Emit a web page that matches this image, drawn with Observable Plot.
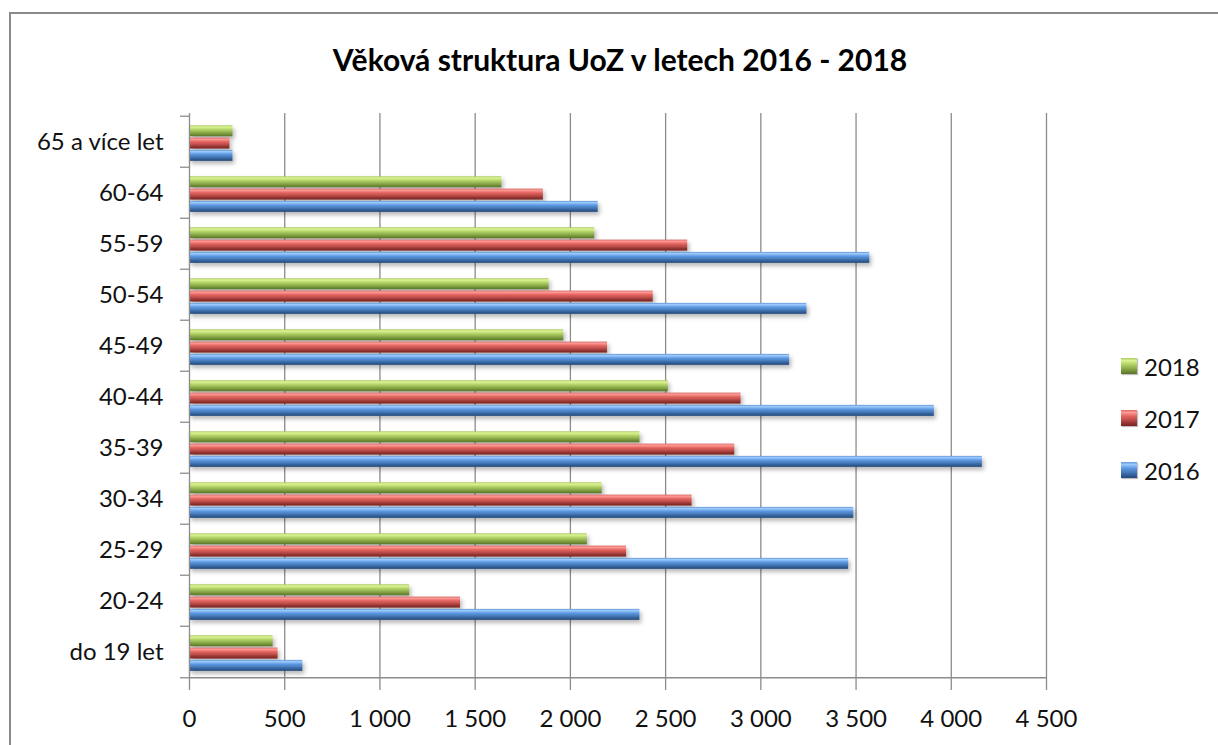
<!DOCTYPE html>
<html>
<head>
<meta charset="utf-8">
<script src="https://cdn.jsdelivr.net/npm/d3@7"></script>
<script src="https://cdn.jsdelivr.net/npm/@observablehq/plot@0.6"></script>
<style>
  html, body { margin: 0; padding: 0; background: #fff; }
  #wrap { position: relative; width: 1218px; height: 745px; overflow: hidden; font-family: Lato, "Open Sans", sans-serif; }
  #border { position: absolute; left: 9px; top: 12px; width: 1220px; height: 760px; border: 2px solid #8a8a8a; box-sizing: border-box; }
  #title { position: absolute; left: 0; width: 1240px; top: 41px; text-align: center; font-weight: bold; font-size: 30px; color: #000; }
  #chart { position: absolute; left: 0; top: 0; }
  #legend { position: absolute; left: 1121px; top: 340px; font-size: 24px; color: #111; }
  .li { display: flex; align-items: center; height: 52px; }
  .sw { width: 16px; height: 16px; margin-right: 7px; box-shadow: 1px 1px 1px rgba(0,0,0,0.25); }
</style>
</head>
<body>
<div id="wrap">
  <div id="border"></div>
  <div id="title">Věková struktura UoZ v letech 2016 - 2018</div>
  <div id="chart"></div>
  <div id="legend"></div>
</div>
<script>
const categories = ["65 a více let","60-64","55-59","50-54","45-49","40-44","35-39","30-34","25-29","20-24","do 19 let"];
const years = ["2018","2017","2016"];
const v2018 = [228,1640,2128,1888,1965,2514,2365,2167,2089,1156,439];
const v2017 = [212,1858,2616,2435,2195,2896,2863,2639,2295,1423,465];
const v2016 = [228,2146,3572,3242,3151,3911,4163,3488,3461,2365,595];
const xTicks = [0,500,1000,1500,2000,2500,3000,3500,4000,4500];

const series = {"2018": v2018, "2017": v2017, "2016": v2016};
const rows = [];
for (const y of years) categories.forEach((c, i) => rows.push({category: c, year: y, value: series[y][i]}));

const W = 1218, H = 745;
const mL = 189, mR = 1218 - 1046, mT = 113, mB = 745 - 680;
const bw = (H - mT - mB) / categories.length;
const fills = {"2018": "url(#gGreen)", "2017": "url(#gRed)", "2016": "url(#gBlue)"};
const slots = {"2018": [9.3, 20.8], "2017": [21.6, 33.1], "2016": [33.9, 45.4]};
const grid = "#8c8c8c";

const fmt = d => d >= 1000 ? `${Math.floor(d/1000)} ${String(d % 1000).padStart(3, "0")}` : `${d}`;

const barMarks = years.map(y => Plot.barX(rows.filter(r => r.year === y), {
  x: "value", y: "category", fill: fills[y],
  insetTop: slots[y][0], insetBottom: bw - slots[y][1]
}));

const plot = Plot.plot({
  width: W, height: H,
  marginLeft: mL, marginRight: mR, marginTop: mT, marginBottom: mB,
  style: {fontFamily: "Lato, 'Open Sans', sans-serif", fontSize: "24px", color: "#111", background: "transparent", overflow: "visible"},
  x: {domain: [0, 4500], axis: null, label: null},
  y: {domain: categories, padding: 0, axis: null, label: null},
  marks: [
    Plot.ruleX(xTicks.slice(1), {stroke: grid, strokeWidth: 1.3}),
    ...barMarks,
    Plot.ruleX([0], {stroke: grid, strokeWidth: 1.3}),
    Plot.ruleY([categories[categories.length - 1]], {dy: bw / 2, x1: 0, x2: 4500, stroke: grid, strokeWidth: 1.3}),
    Plot.axisY({tickSize: 0, tickPadding: 26, fontSize: 24, fill: "#111", label: null}),
    Plot.axisY({tickSize: 9, text: null, dy: -bw / 2, stroke: grid, strokeWidth: 1.3, label: null}),
    Plot.axisY([categories[categories.length - 1]], {tickSize: 9, text: null, dy: bw / 2, stroke: grid, strokeWidth: 1.3, label: null}),
    Plot.axisX({ticks: xTicks, tickSize: 10, tickPadding: 19, tickFormat: fmt, fontSize: 24, fill: "#111", stroke: grid, strokeWidth: 1.3, label: null})
  ]
});

const ns = "http://www.w3.org/2000/svg";
const defs = document.createElementNS(ns, "defs");
const grads = {
  gGreen: [["0", "#a9c65f"], ["0.15", "#dcf593"], ["0.4", "#b2d166"], ["0.6", "#94b451"], ["0.85", "#6f8c35"], ["1", "#5a7428"]],
  gRed:   [["0", "#d86a66"], ["0.15", "#ff9a96"], ["0.4", "#e0605c"], ["0.6", "#c0504d"], ["0.85", "#8e302d"], ["1", "#772422"]],
  gBlue:  [["0", "#5f95d6"], ["0.15", "#9ccaff"], ["0.4", "#5b97e0"], ["0.6", "#4a7fc0"], ["0.85", "#2f5b94"], ["1", "#244a7a"]]
};
for (const [id, stops] of Object.entries(grads)) {
  const g = document.createElementNS(ns, "linearGradient");
  g.setAttribute("id", id);
  g.setAttribute("x1", "0"); g.setAttribute("y1", "0"); g.setAttribute("x2", "0"); g.setAttribute("y2", "1");
  for (const [o, c] of stops) {
    const s = document.createElementNS(ns, "stop");
    s.setAttribute("offset", o); s.setAttribute("stop-color", c);
    g.appendChild(s);
  }
  defs.appendChild(g);
}
plot.insertBefore(defs, plot.firstChild);
plot.querySelectorAll('g[aria-label="bar"]').forEach(g => g.style.filter = "drop-shadow(2px 3px 2px rgba(0,0,0,0.28))");
document.getElementById("chart").appendChild(plot);

const legend = document.getElementById("legend");
for (const y of years) {
  const stops = grads[fills[y].slice(5, -1)];
  const div = document.createElement("div");
  div.className = "li";
  const sw = document.createElement("span");
  sw.className = "sw";
  sw.style.background = `linear-gradient(to bottom, ${stops.map(s => `${s[1]} ${s[0]*100}%`).join(", ")})`;
  const t = document.createElement("span");
  t.textContent = y;
  div.appendChild(sw); div.appendChild(t);
  legend.appendChild(div);
}
</script>
</body>
</html>
